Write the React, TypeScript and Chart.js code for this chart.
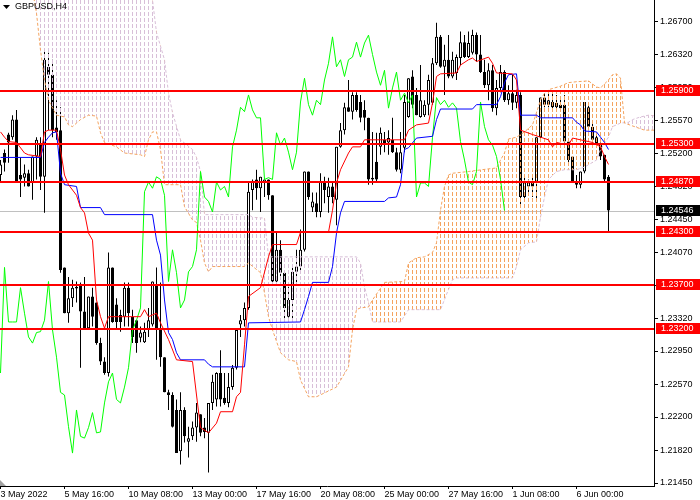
import { useEffect, useRef } from "react"
import { Chart, registerables } from "chart.js"

Chart.register(...registerables)

const symbol = "GBPUSD,H4"

// H4 candles, oldest first
const opens = [
  1.2495, 1.2520, 1.2541, 1.2538, 1.2558, 1.2495, 1.2492, 1.2497, 1.2487, 1.2516,
  1.2529, 1.2493, 1.2618, 1.2609, 1.2549, 1.2546, 1.2390, 1.2338, 1.2355, 1.2368,
  1.2370, 1.2340, 1.2321, 1.2357, 1.2350, 1.2304, 1.2283, 1.2270, 1.2390, 1.2348,
  1.2336, 1.2334, 1.2367, 1.2334, 1.2330, 1.2310, 1.2305, 1.2319, 1.2325, 1.2370,
  1.2319, 1.2288, 1.2248, 1.2245, 1.2228, 1.2181, 1.2228, 1.2192, 1.2198, 1.2208,
  1.2223, 1.2208, 1.2202, 1.2236, 1.2240, 1.2270, 1.2242, 1.2236, 1.2254, 1.2276,
  1.2325, 1.2330, 1.2344, 1.2478, 1.2490, 1.2480, 1.2487, 1.2490, 1.2472, 1.2374,
  1.2410, 1.2384, 1.2334, 1.2353, 1.2385, 1.2391, 1.2410, 1.2499, 1.2458, 1.2463,
  1.2453, 1.2487, 1.2470, 1.2482, 1.2467, 1.2527, 1.2546, 1.2572, 1.2567, 1.2586,
  1.2578, 1.2569, 1.2560, 1.2490, 1.2510, 1.2527, 1.2535, 1.2532, 1.2535, 1.2521,
  1.2501, 1.2526, 1.2561, 1.2607, 1.2586, 1.2561, 1.2563, 1.2575, 1.2577, 1.2622,
  1.2652, 1.2618, 1.2626, 1.2607, 1.2611, 1.2628, 1.2646, 1.2629, 1.2634, 1.2654,
  1.2632, 1.2612, 1.2597, 1.2614, 1.2571, 1.2594, 1.2612, 1.2580, 1.2588, 1.2577,
  1.2586, 1.2470, 1.2482, 1.2486, 1.2486, 1.2538, 1.2583, 1.2575, 1.2578, 1.2572,
  1.2575, 1.2575, 1.2533, 1.2516, 1.2487, 1.2484, 1.2499, 1.2572, 1.2550, 1.2538,
  1.2529, 1.2518, 1.2493,
]
const highs = [
  1.2512, 1.2524, 1.2543, 1.2563, 1.2569, 1.2515, 1.2507, 1.2501, 1.2516, 1.2538,
  1.2538, 1.2637, 1.2634, 1.2626, 1.2580, 1.2572, 1.2390, 1.2379, 1.2376, 1.2374,
  1.2373, 1.2379, 1.2357, 1.2367, 1.2350, 1.2310, 1.2288, 1.2407, 1.2390, 1.2355,
  1.2342, 1.2373, 1.2373, 1.2342, 1.2330, 1.2323, 1.2327, 1.2344, 1.2374, 1.2390,
  1.2373, 1.2288, 1.2251, 1.2248, 1.2240, 1.2248, 1.2231, 1.2209, 1.2215, 1.2236,
  1.2223, 1.2219, 1.2236, 1.2268, 1.2271, 1.2296, 1.2270, 1.2270, 1.2279, 1.2319,
  1.2336, 1.2350, 1.2486, 1.2490, 1.2501, 1.2493, 1.2490, 1.2490, 1.2472, 1.2430,
  1.2421, 1.2384, 1.2368, 1.2391, 1.2410, 1.2433, 1.2499, 1.2499, 1.2475, 1.2475,
  1.2497, 1.2493, 1.2492, 1.2486, 1.2527, 1.2554, 1.2577, 1.2603, 1.2589, 1.2589,
  1.2586, 1.2580, 1.2560, 1.2544, 1.2543, 1.2549, 1.2544, 1.2546, 1.2560, 1.2526,
  1.2544, 1.2586, 1.2605, 1.2614, 1.2594, 1.2620, 1.2580, 1.2609, 1.2628, 1.2668,
  1.2654, 1.2643, 1.2654, 1.2635, 1.2632, 1.2658, 1.2654, 1.2658, 1.2660, 1.2657,
  1.2654, 1.2626, 1.2622, 1.2620, 1.2603, 1.2620, 1.2614, 1.2597, 1.2609, 1.2592,
  1.2589, 1.2493, 1.2490, 1.2492, 1.2538, 1.2583, 1.2588, 1.2589, 1.2588, 1.2586,
  1.2584, 1.2586, 1.2535, 1.2516, 1.2495, 1.2499, 1.2578, 1.2577, 1.2554, 1.2543,
  1.2532, 1.2518, 1.2495,
]
const lows = [
  1.2487, 1.2499, 1.2509, 1.2535, 1.2487, 1.2470, 1.2482, 1.2482, 1.2467, 1.2490,
  1.2478, 1.2452, 1.2546, 1.2538, 1.2535, 1.2384, 1.2338, 1.2327, 1.2345, 1.2350,
  1.2276, 1.2319, 1.2319, 1.2323, 1.2302, 1.2279, 1.2268, 1.2266, 1.2327, 1.2319,
  1.2317, 1.2323, 1.2323, 1.2304, 1.2293, 1.2305, 1.2304, 1.2311, 1.2323, 1.2285,
  1.2277, 1.2248, 1.2228, 1.2208, 1.2179, 1.2166, 1.2191, 1.2174, 1.2194, 1.2192,
  1.2198, 1.2196, 1.2157, 1.2228, 1.2232, 1.2232, 1.2234, 1.2231, 1.2251, 1.2274,
  1.2311, 1.2323, 1.2342, 1.2455, 1.2467, 1.2453, 1.2470, 1.2467, 1.2373, 1.2373,
  1.2378, 1.2330, 1.2333, 1.2330, 1.2373, 1.2387, 1.2408, 1.2467, 1.2453, 1.2447,
  1.2447, 1.2463, 1.2452, 1.2463, 1.2438, 1.2526, 1.2541, 1.2567, 1.2558, 1.2567,
  1.2555, 1.2546, 1.2484, 1.2484, 1.2487, 1.2518, 1.2521, 1.2518, 1.2520, 1.2499,
  1.2497, 1.2521, 1.2560, 1.2571, 1.2563, 1.2560, 1.2561, 1.2563, 1.2575, 1.2620,
  1.2617, 1.2586, 1.2605, 1.2605, 1.2603, 1.2620, 1.2628, 1.2628, 1.2632, 1.2624,
  1.2611, 1.2594, 1.2580, 1.2567, 1.2563, 1.2589, 1.2578, 1.2575, 1.2569, 1.2571,
  1.2461, 1.2467, 1.2472, 1.2470, 1.2467, 1.2537, 1.2572, 1.2572, 1.2571, 1.2569,
  1.2569, 1.2532, 1.2509, 1.2486, 1.2480, 1.2480, 1.2497, 1.2546, 1.2532, 1.2526,
  1.2512, 1.2487, 1.2430,
]
const closes = [
  1.2507, 1.2509, 1.2532, 1.2558, 1.2487, 1.2490, 1.2497, 1.2482, 1.2516, 1.2535,
  1.2493, 1.2626, 1.2609, 1.2546, 1.2544, 1.2387, 1.2338, 1.2355, 1.2367, 1.2366,
  1.2340, 1.2321, 1.2357, 1.2334, 1.2304, 1.2283, 1.2270, 1.2390, 1.2328, 1.2328,
  1.2328, 1.2367, 1.2338, 1.2311, 1.2304, 1.2316, 1.2317, 1.2330, 1.2374, 1.2319,
  1.2288, 1.2248, 1.2245, 1.2209, 1.2179, 1.2228, 1.2198, 1.2196, 1.2208, 1.2225,
  1.2202, 1.2203, 1.2236, 1.2260, 1.2270, 1.2240, 1.2236, 1.2254, 1.2276, 1.2319,
  1.2330, 1.2344, 1.2476, 1.2487, 1.2480, 1.2493, 1.2490, 1.2472, 1.2374, 1.2410,
  1.2384, 1.2344, 1.2353, 1.2385, 1.2391, 1.2410, 1.2499, 1.2470, 1.2465, 1.2453,
  1.2487, 1.2478, 1.2482, 1.2470, 1.2527, 1.2546, 1.2572, 1.2567, 1.2586, 1.2569,
  1.2560, 1.2560, 1.2490, 1.2492, 1.2490, 1.2543, 1.2529, 1.2537, 1.2521, 1.2501,
  1.2521, 1.2578, 1.2605, 1.2575, 1.2563, 1.2580, 1.2575, 1.2603, 1.2622, 1.2652,
  1.2618, 1.2626, 1.2607, 1.2626, 1.2629, 1.2646, 1.2629, 1.2645, 1.2654, 1.2632,
  1.2612, 1.2597, 1.2614, 1.2571, 1.2594, 1.2612, 1.2580, 1.2588, 1.2577, 1.2586,
  1.2470, 1.2486, 1.2486, 1.2482, 1.2538, 1.2583, 1.2575, 1.2580, 1.2572, 1.2577,
  1.2571, 1.2533, 1.2512, 1.2487, 1.2484, 1.2499, 1.2578, 1.2550, 1.2535, 1.2529,
  1.2516, 1.2490, 1.24546,
]

// Ichimoku lines as [bar, price] vertices
const tenkan = [
  [0, 1.2544], [1, 1.2538], [2, 1.2533], [4, 1.2532], [6, 1.2520], [7, 1.2518], [10, 1.2516],
  [11, 1.2544], [12, 1.2546], [14, 1.2546], [15, 1.2524], [16, 1.2495], [17, 1.2484], [19, 1.2472],
  [20, 1.2458], [21, 1.2452], [22, 1.2429], [23, 1.2421], [24, 1.2353], [25, 1.2334], [26, 1.2321],
  [27, 1.2334], [35, 1.2334], [36, 1.2342], [37, 1.2334], [39, 1.2338], [40, 1.2327], [42, 1.2308],
  [44, 1.2285], [48, 1.2283], [49, 1.2245], [50, 1.2208], [52, 1.2202], [54, 1.2213], [55, 1.2226],
  [58, 1.2226], [59, 1.2243], [60, 1.2248], [61, 1.2302], [62, 1.2357], [65, 1.2367], [67, 1.2402],
  [68, 1.2416], [74, 1.2416], [75, 1.2430], [82, 1.2430], [83, 1.2455], [84, 1.2486], [85, 1.2501],
  [87, 1.2520], [88, 1.2527], [90, 1.2527], [91, 1.2535], [101, 1.2535], [102, 1.2546], [104, 1.2552],
  [107, 1.2554], [108, 1.2577], [109, 1.2607], [110, 1.2610], [114, 1.2611], [115, 1.2620], [117, 1.2626],
  [118, 1.2628], [119, 1.2624], [122, 1.2629], [123, 1.2622], [124, 1.2611], [128, 1.2610], [129, 1.2603],
  [130, 1.2546], [133, 1.2541], [137, 1.2535], [138, 1.2527], [139, 1.2532], [142, 1.2529], [143, 1.2537],
  [145, 1.2535], [148, 1.2532], [150, 1.2527], [151, 1.2516], [152, 1.2507],
]
const kijun = [
  [0, 1.2515], [10, 1.2515], [11, 1.2532], [12, 1.2538], [13, 1.2543], [14, 1.2544], [15, 1.2497],
  [16, 1.2484], [19, 1.2482], [20, 1.2458], [25, 1.2458], [26, 1.2450], [38, 1.2450], [39, 1.2421],
  [40, 1.2404], [41, 1.2353], [42, 1.2316], [43, 1.2308], [44, 1.2293], [45, 1.2285], [51, 1.2285],
  [52, 1.2280], [53, 1.2277], [61, 1.2277], [62, 1.2327], [75, 1.2328], [76, 1.2342], [77, 1.2357],
  [78, 1.2373], [82, 1.2373], [83, 1.2391], [84, 1.2429], [85, 1.2452], [86, 1.2465], [96, 1.2465],
  [97, 1.2469], [99, 1.2470], [100, 1.2484], [101, 1.2524], [102, 1.2526], [104, 1.2537], [108, 1.2539],
  [109, 1.2558], [110, 1.2570], [118, 1.2570], [119, 1.2575], [124, 1.2575], [125, 1.2584], [126, 1.2600],
  [127, 1.2609], [129, 1.2610], [130, 1.2563], [134, 1.2563], [135, 1.2560], [143, 1.2560], [144, 1.2555],
  [145, 1.2552], [146, 1.2545], [149, 1.2544], [150, 1.2538], [151, 1.2532], [152, 1.2524],
]
const spanA = [
  [0, 1.2705], [8, 1.2705], [9, 1.2679], [10, 1.2637], [11, 1.2603], [12, 1.2580], [14, 1.2563],
  [16, 1.2561], [17, 1.2552], [18, 1.2550], [19, 1.2554], [20, 1.2558], [22, 1.2563], [24, 1.2562],
  [25, 1.2543], [26, 1.2532], [29, 1.2527], [31, 1.2520], [35, 1.2518], [36, 1.2516], [37, 1.2535],
  [38, 1.2544], [39, 1.2544], [40, 1.2524], [41, 1.2484], [45, 1.2484], [46, 1.2459], [48, 1.2444],
  [49, 1.2441], [50, 1.2421], [51, 1.2395], [52, 1.2385], [53, 1.2391], [61, 1.2391], [62, 1.2395],
  [65, 1.2384], [66, 1.2361], [67, 1.2334], [68, 1.2319], [70, 1.2293], [72, 1.2285], [74, 1.2283],
  [75, 1.2262], [77, 1.2243], [79, 1.2243], [84, 1.2254], [87, 1.2277], [88, 1.2319], [89, 1.2342],
  [90, 1.2344], [92, 1.2345], [93, 1.2353], [96, 1.2373], [101, 1.2374], [102, 1.2395], [104, 1.2401],
  [106, 1.2402], [108, 1.2407], [109, 1.2418], [110, 1.2455], [111, 1.2482], [112, 1.2495], [113, 1.2497],
  [117, 1.2499], [122, 1.2502], [124, 1.2503], [125, 1.2512], [126, 1.2520], [127, 1.2536], [129, 1.2538],
  [131, 1.2544], [133, 1.2552], [135, 1.2580], [136, 1.2588], [137, 1.2592], [140, 1.2596], [142, 1.2600],
  [144, 1.2601], [147, 1.2602], [149, 1.2595], [150, 1.2594], [152, 1.2603], [153, 1.2609], [154, 1.2610],
  [155, 1.2605], [156, 1.2554], [161, 1.2546], [164, 1.2546],
]
const spanB = [
  [0, 1.2740], [37, 1.2740], [38, 1.2694], [39, 1.2657], [41, 1.2626], [42, 1.2588], [43, 1.2566],
  [45, 1.2535], [48, 1.2524], [49, 1.2515], [50, 1.2499], [51, 1.2450], [62, 1.2450], [63, 1.2447],
  [66, 1.2446], [67, 1.2402], [89, 1.2402], [90, 1.2395], [91, 1.2368], [92, 1.2350], [93, 1.2328],
  [100, 1.2328], [102, 1.2342], [110, 1.2342], [112, 1.2365], [113, 1.2376], [114, 1.2378], [128, 1.2378],
  [129, 1.2391], [130, 1.2410], [132, 1.2418], [134, 1.2419], [135, 1.2447], [136, 1.2470], [137, 1.2490],
  [139, 1.2499], [141, 1.2501], [144, 1.2501], [146, 1.2504], [149, 1.2512], [150, 1.2524], [152, 1.2538],
  [153, 1.2550], [155, 1.2554], [157, 1.2555], [158, 1.2558], [160, 1.2561], [162, 1.2563], [164, 1.2562],
]
const chikouShift = 26

const timeTickBars = [0, 16, 32, 48, 64, 80, 96, 112, 128, 144]
const timeLabels = [
  "3 May 2022", "5 May 16:00", "10 May 08:00", "13 May 00:00", "17 May 16:00",
  "20 May 08:00", "25 May 00:00", "27 May 16:00", "1 Jun 08:00", "6 Jun 00:00",
]
const priceTicks = [
  1.267, 1.2632, 1.2595, 1.2557, 1.252, 1.2482, 1.2445, 1.2407,
  1.237, 1.2332, 1.2295, 1.2257, 1.222, 1.2182, 1.2145,
]
const levels = [1.259, 1.253, 1.2487, 1.243, 1.237, 1.232]
const bid = 1.24546

const FONT = '"Liberation Sans", Arial, sans-serif'

function hatch(color: string) {
  const c = document.createElement("canvas")
  c.width = 4
  c.height = 6
  const g = c.getContext("2d")!
  g.fillStyle = color
  g.fillRect(0, 0, 1, 4)
  return g.createPattern(c, "repeat")!
}

const pts = (a: number[][]) => a.map(([x, y]) => ({ x, y }))

const overlay = {
  id: "overlay",
  beforeDatasetsDraw(chart: any) {
    const { ctx, chartArea: a, scales } = chart
    const py = Math.round(scales.y.getPixelForValue(bid)) + 0.5
    ctx.save()
    ctx.strokeStyle = "#C0C0C0"
    ctx.lineWidth = 1
    ctx.beginPath()
    ctx.moveTo(a.left, py)
    ctx.lineTo(a.right, py)
    ctx.stroke()
    ctx.restore()
  },
  afterDatasetsDraw(chart: any) {
    const { ctx, chartArea: a, scales, width } = chart
    const y = scales.y
    ctx.save()
    ctx.strokeStyle = "#FF0000"
    ctx.lineWidth = 2
    levels.forEach((lv) => {
      const py = Math.round(y.getPixelForValue(lv))
      ctx.beginPath()
      ctx.moveTo(a.left, py)
      ctx.lineTo(a.right, py)
      ctx.stroke()
    })

    ctx.font = "9px " + FONT
    ctx.textBaseline = "middle"
    ctx.textAlign = "left"
    const tag = (v: number, bg: string) => {
      const py = Math.round(y.getPixelForValue(v))
      ctx.fillStyle = bg
      ctx.fillRect(a.right + 2, py - 6, width - a.right - 2, 11)
      ctx.fillStyle = "#FFFFFF"
      ctx.fillText(v.toFixed(5), a.right + 7, py)
    }
    levels.forEach((lv) => tag(lv, "#FF0000"))
    tag(bid, "#000000")

    // symbol caption
    ctx.fillStyle = "#000000"
    ctx.beginPath()
    ctx.moveTo(3, 5)
    ctx.lineTo(10, 5)
    ctx.lineTo(6.5, 9)
    ctx.closePath()
    ctx.fill()
    ctx.fillText(symbol, 15, 7)

    // shift marker bottom-left
    ctx.fillStyle = "#A0A0A0"
    ctx.beginPath()
    ctx.moveTo(a.left, a.bottom - 6)
    ctx.lineTo(a.left, a.bottom)
    ctx.lineTo(a.left + 6, a.bottom)
    ctx.closePath()
    ctx.fill()
    ctx.restore()
  },
}

export default function App() {
  const chartRef = useRef<HTMLCanvasElement>(null)
  const chartInstance = useRef<Chart | null>(null)

  useEffect(() => {
    document.body.style.margin = "0"
    if (!chartRef.current) return
    if (chartInstance.current) chartInstance.current.destroy()
    const ctx = chartRef.current.getContext("2d")
    if (!ctx) return

    const orange = hatch("#F4A460")
    const thistle = hatch("#D8BFD8")

    chartInstance.current = new Chart(ctx, {
      type: "bar",
      data: {
        datasets: [
          {
            type: "line",
            label: "Tenkan-sen",
            data: pts(tenkan),
            borderColor: "#FF0000",
            borderWidth: 1,
            pointRadius: 0,
            order: 0,
          },
          {
            type: "line",
            label: "Kijun-sen",
            data: pts(kijun),
            borderColor: "#0000FF",
            borderWidth: 1,
            pointRadius: 0,
            order: 0,
          },
          {
            type: "line",
            label: "Chikou Span",
            data: closes.slice(chikouShift).map((c, i) => ({ x: i, y: c })),
            borderColor: "#00FF00",
            borderWidth: 1,
            pointRadius: 0,
            order: 0,
          },
          {
            type: "line",
            label: "Senkou Span A",
            data: pts(spanA),
            borderColor: "#F4A460",
            borderWidth: 1,
            borderDash: [3, 2],
            pointRadius: 0,
            backgroundColor: orange,
            fill: { target: 4, above: orange, below: thistle },
            order: 1,
          },
          {
            type: "line",
            label: "Senkou Span B",
            data: pts(spanB),
            borderColor: "#D8BFD8",
            borderWidth: 1,
            borderDash: [3, 2],
            pointRadius: 0,
            order: 1,
          },
          {
            type: "bar",
            label: "wick",
            data: lows.map((l, i) => ({ x: i, y: [l, highs[i]] })) as any,
            backgroundColor: "#000000",
            barThickness: 1,
            grouped: false,
            inflateAmount: 0,
            order: 3,
          },
          {
            type: "bar",
            label: "body",
            data: opens.map((o, i) => ({ x: i, y: [o, closes[i]] })) as any,
            backgroundColor: opens.map((o, i) => (closes[i] >= o ? "#FFFFFF" : "#000000")),
            borderColor: "#000000",
            borderWidth: 1,
            borderSkipped: false,
            barThickness: 3,
            grouped: false,
            inflateAmount: 0,
            order: 2,
          },
        ],
      },
      options: {
        animation: false,
        responsive: true,
        maintainAspectRatio: false,
        events: [],
        layout: { padding: 0 },
        plugins: { legend: { display: false }, tooltip: { enabled: false } },
        scales: {
          x: {
            type: "linear",
            position: "bottom",
            min: -0.125,
            max: 163.375,
            offset: false,
            afterBuildTicks: (s: any) => {
              s.ticks = timeTickBars.map((v) => ({ value: v }))
            },
            afterFit: (s: any) => {
              s.height = 14
              s.paddingLeft = 0
              s.paddingRight = 0
            },
            ticks: {
              autoSkip: false,
              maxRotation: 0,
              align: "start",
              padding: 0,
              color: "#000000",
              font: { family: FONT, size: 9 },
              callback: (_v: any, i: number) => timeLabels[i],
            },
            grid: { drawOnChartArea: false, drawTicks: true, tickLength: 3, color: "#000000", offset: false },
            border: { display: true, color: "#000000" },
          },
          y: {
            type: "linear",
            position: "right",
            min: 1.21416,
            max: 1.26939,
            beginAtZero: false,
            afterBuildTicks: (s: any) => {
              s.ticks = priceTicks.map((v) => ({ value: v }))
            },
            afterFit: (s: any) => {
              s.width = 46
              s.paddingTop = 0
              s.paddingBottom = 0
            },
            ticks: {
              padding: 2,
              color: "#000000",
              font: { family: FONT, size: 9 },
              callback: (v: any) => Number(v).toFixed(5),
            },
            grid: { drawOnChartArea: false, drawTicks: true, tickLength: 4, color: "#000000" },
            border: { display: true, color: "#000000" },
          },
        },
      } as any,
      plugins: [overlay],
    })

    return () => {
      if (chartInstance.current) {
        chartInstance.current.destroy()
        chartInstance.current = null
      }
    }
  }, [])

  return (
    <div style={{ position: "relative", width: 700, height: 500 }}>
      <canvas ref={chartRef} />
    </div>
  )
}
